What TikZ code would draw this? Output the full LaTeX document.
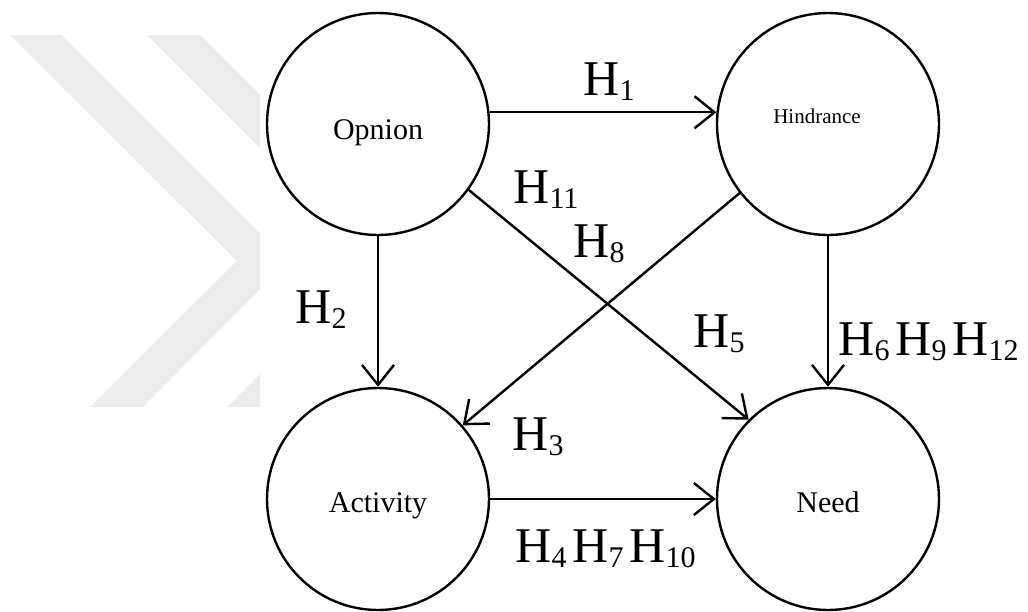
\documentclass[tikz,border=0pt]{standalone}
\usepackage{fontspec}
\setmainfont{Liberation Serif}
\usetikzlibrary{arrows.meta, positioning}

\newcommand{\hsub}[1]{H\raisebox{-2.5pt}{\fontsize{15}{15}\selectfont #1}}

\begin{document}
\begin{tikzpicture}[
    x=0.5pt, y=-0.5pt,
    concept/.style={circle, draw, line width=1.2pt, minimum size=111pt, inner sep=0pt, font=\fontsize{15}{18}\selectfont},
    hlab/.style={anchor=base west, inner sep=0pt, font=\fontsize{25}{30}\selectfont},
    link/.style={->, line width=1.2pt},
    >={Straight Barb[length=10pt, width=16pt]}
]
\useasboundingbox (0,0) rectangle (1028,611);

% Watermark
\begin{scope}
\clip (0,0) rectangle (260,611);
\fill[gray!15] (10,35) -- (62,35) -- (288,261) -- (143,407) -- (90,407) -- (237,261) -- cycle;
\fill[gray!15] (147,35) -- (200,35) -- (426,261) -- (280,407) -- (227,407) -- (373,261) -- cycle;
\end{scope}

% Concepts
\node[concept] at (378,124) (opn) {\raisebox{-7.5pt}[0pt][0pt]{Opnion}};
\node[concept, font=\fontsize{10.5}{12}\selectfont] at (828,124) (hin) {\hspace*{-11pt}\raisebox{0.5pt}[0pt][0pt]{Hindrance}};
\node[concept] at (378,499) (act) {\raisebox{-6.5pt}[0pt][0pt]{Activity}};
\node[concept] at (828,499) (need) {\raisebox{-6.5pt}[0pt][0pt]{Need}};

% Paths
\draw[link] (opn.6) -- (hin.174);
\draw[link] (opn.south) -- (act.north);
\draw[link] (hin.218) -- (act.41);
\draw[link] (act.east) -- (need.west);
\draw[link] (opn.324) -- (need.135);
\draw[link] (hin.south) -- (need.north);

% Hypotheses
\node[hlab] at (583,95) (h1) {\hsub{1}};
\node[hlab] at (513,203) (h11) {\hsub{11}};
\node[hlab] at (573,257) (h8) {\hsub{8}};
\node[hlab] at (295,323) (h2) {\hsub{2}};
\node[hlab] at (693,347) (h5) {\hsub{5}};
\node[hlab] at (838,355) (h6) {\hsub{6}\hspace{3pt}\hsub{9}\hspace{3pt}\hsub{12}};
\node[hlab] at (512,450) (h3) {\hsub{3}};
\node[hlab] at (515,562) (h4) {\hsub{4}\hspace{3pt}\hsub{7}\hspace{3pt}\hsub{10}};

\end{tikzpicture}
\end{document}
